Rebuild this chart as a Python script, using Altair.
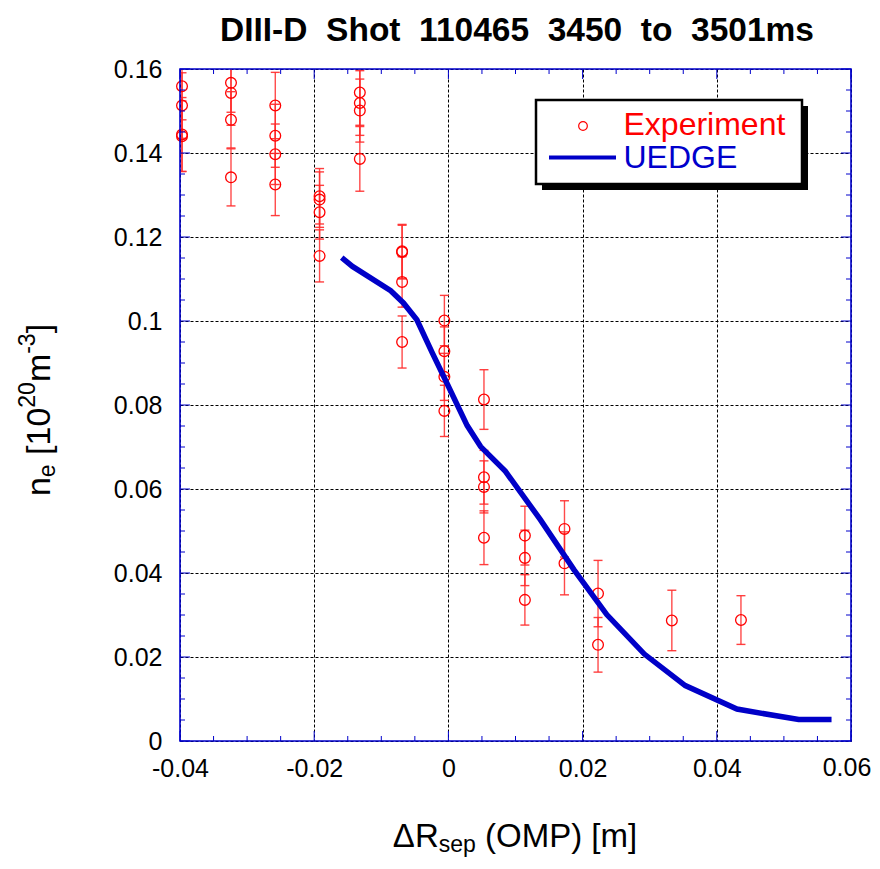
import altair as alt
import pandas as pd

# ---------------- data ----------------
exp_x = [-0.0397, -0.0397, -0.0397, -0.0397,
         -0.0324, -0.0324, -0.0324, -0.0324,
         -0.0258, -0.0258, -0.0258, -0.0258,
         -0.0192, -0.0192, -0.0192, -0.0192,
         -0.0132, -0.0132, -0.0132, -0.0132,
         -0.0069, -0.0069, -0.0069, -0.0069,
         -0.0006, -0.0006, -0.0006, -0.0006,
         0.0053, 0.0053, 0.0053, 0.0053,
         0.0114, 0.0114, 0.0114,
         0.0173, 0.0173,
         0.0223, 0.0223,
         0.0333,
         0.0436]
exp_y = [0.1559, 0.1513, 0.1444, 0.1440,
         0.1567, 0.1543, 0.1479, 0.1342,
         0.1513, 0.1441, 0.1397, 0.1325,
         0.1297, 0.1289, 0.1259, 0.1155,
         0.1544, 0.1519, 0.1501, 0.1386,
         0.1166, 0.1164, 0.1093, 0.0950,
         0.1001, 0.0928, 0.0867, 0.0786,
         0.0813, 0.0628, 0.0605, 0.0484,
         0.0489, 0.0436, 0.0336,
         0.0505, 0.0423,
         0.0351, 0.0229,
         0.0287,
         0.0288]
exp_err = [0.0080, 0.0078, 0.0088, 0.0084,
           0.0070, 0.0077, 0.0067, 0.0068,
           0.0079, 0.0075, 0.0072, 0.0074,
           0.0066, 0.0066, 0.0064, 0.0062,
           0.0078, 0.0077, 0.0075, 0.0077,
           0.0064, 0.0064, 0.0060, 0.0062,
           0.0060, 0.0058, 0.0056, 0.0061,
           0.0071, 0.0064, 0.0062, 0.0064,
           0.0070, 0.0066, 0.0060,
           0.0067, 0.0075,
           0.0079, 0.0065,
           0.0072,
           0.0058]

uedge_x = [-0.0159, -0.0143, -0.0086, -0.0067, -0.0047, -0.0024, -0.0007,
           0.0028, 0.0048, 0.0085, 0.0137, 0.0187, 0.0236, 0.0292,
           0.0353, 0.0430, 0.0522, 0.0571]
uedge_y = [0.1151, 0.1130, 0.1072, 0.1043, 0.1003, 0.0924, 0.0868,
           0.0751, 0.0701, 0.0642, 0.0527, 0.0408, 0.0301, 0.0207,
           0.0132, 0.0076, 0.0051, 0.0051]

x_major = [-0.04, -0.02, 0.0, 0.02, 0.04, 0.06]
y_major = [0.0, 0.02, 0.04, 0.06, 0.08, 0.1, 0.12, 0.14, 0.16]
x_minor = [-0.035, -0.03, -0.025, -0.015, -0.01, -0.005, 0.005, 0.01, 0.015,
           0.025, 0.03, 0.035, 0.045, 0.05, 0.055]
y_minor = [0.005, 0.01, 0.015, 0.025, 0.03, 0.035, 0.045, 0.05, 0.055,
           0.065, 0.07, 0.075, 0.085, 0.09, 0.095, 0.105, 0.11, 0.115,
           0.125, 0.13, 0.135, 0.145, 0.15, 0.155]
last_x_label = "0.06"

NB = "\u00a0"
title_text = f"DIII-D {NB}Shot {NB}110465 {NB}3450 {NB}to {NB}3501ms"
legend_labels = ["Experiment", "UEDGE"]

# ---------------- styling ----------------
W, H = 671, 672
BLUE = "#0000CC"
LINEBLUE = "#0000C8"
RED = "#FF0000"
ERR = "#FF2A2A"
FONT = "Liberation Sans"
TICKFS = 25
XPAD = 15

# Arial / Liberation Sans advance widths (em) for the rich-text titles
AW = {'n': .556, 'e': .556, ' ': .278, '[': .278, '1': .556, '0': .556, '2': .556,
      'm': .833, '-': .333, '3': .556, ']': .278, 'Δ': .668, 'R': .722, 's': .5,
      'p': .556, '(': .333, ')': .333, 'O': .778, 'M': .833, 'P': .667}


def tw(s, size):
    return sum(AW[c] for c in s) * size


xs = alt.Scale(domain=[-0.04, 0.06], nice=False, zero=False)
ys = alt.Scale(domain=[0, 0.16], nice=False, zero=False)

LABEL_EXPR = "replace(format(datum.value, '~g'), '\u2212', '-')"
X_LABEL_EXPR = "datum.value > 0.059 ? '' : " + LABEL_EXPR
x_axis = alt.Axis(values=x_major, labelExpr=X_LABEL_EXPR, grid=True, gridDash=[3, 2],
                  gridColor="black", gridWidth=1, gridOpacity=1, ticks=False, tickSize=0,
                  domain=False, labelFont=FONT, labelFontSize=TICKFS, labelColor="black",
                  labelPadding=XPAD, labelFlush=False, labelOverlap=False, title=None)
y_axis = alt.Axis(values=y_major, labelExpr=LABEL_EXPR, grid=True, gridDash=[3, 2],
                  gridColor="black", gridWidth=1, gridOpacity=1, ticks=False, tickSize=0,
                  domain=False, labelFont=FONT, labelFontSize=TICKFS, labelColor="black",
                  labelPadding=18, labelFlush=False, labelOverlap=False, title=None)

df = pd.DataFrame({"x": exp_x, "y": exp_y, "err": exp_err})
df["lo"] = df["y"] - df["err"]
df["hi"] = df["y"] + df["err"]
dfu = pd.DataFrame({"x": uedge_x, "y": uedge_y})
dummy = pd.DataFrame({"a": [0]})

layers = []

# error bars
layers.append(
    alt.Chart(df).mark_rule(color=ERR, opacity=0.85, strokeWidth=1.4, clip=True).encode(
        x=alt.X("x:Q", scale=xs, axis=x_axis),
        y=alt.Y("lo:Q", scale=ys, axis=y_axis),
        y2="hi:Q")
)
for fld in ["lo", "hi"]:
    layers.append(
        alt.Chart(df).mark_tick(color=ERR, opacity=0.9, orient="horizontal",
                                size=9, thickness=1.4, clip=True).encode(
            x=alt.X("x:Q", scale=xs, axis=x_axis),
            y=alt.Y(f"{fld}:Q", scale=ys, axis=y_axis))
    )

# experiment points
layers.append(
    alt.Chart(df).mark_point(shape="circle", filled=False, size=115, color=RED,
                             strokeWidth=1.3, opacity=1).encode(
        x=alt.X("x:Q", scale=xs, axis=x_axis),
        y=alt.Y("y:Q", scale=ys, axis=y_axis))
)

# UEDGE line
layers.append(
    alt.Chart(dfu).mark_line(color=LINEBLUE, strokeWidth=5.5).encode(
        x=alt.X("x:Q", scale=xs, axis=x_axis),
        y=alt.Y("y:Q", scale=ys, axis=y_axis))
)


# inward ticks on all four sides
def xticks(vals, length, top):
    d = pd.DataFrame({"v": vals})
    y0 = 0 if top else H
    y1 = length if top else H - length
    return alt.Chart(d).mark_rule(color=BLUE, strokeWidth=1).encode(
        x=alt.X("v:Q", scale=xs, axis=x_axis), y=alt.value(y0), y2=alt.value(y1))


def yticks(vals, length, right):
    d = pd.DataFrame({"v": vals})
    x0 = W if right else 0
    x1 = W - length if right else length
    return alt.Chart(d).mark_rule(color=BLUE, strokeWidth=1).encode(
        y=alt.Y("v:Q", scale=ys, axis=y_axis), x=alt.value(x0), x2=alt.value(x1))


for side in (False, True):
    layers.append(xticks(x_major, 10, side))
    layers.append(xticks(x_minor, 5, side))
    layers.append(yticks(y_major, 10, side))
    layers.append(yticks(y_minor, 5, side))

# frame
layers.append(
    alt.Chart(dummy).mark_rect(fillOpacity=0, stroke=BLUE, strokeWidth=1.6).encode(
        x=alt.value(0), x2=alt.value(W), y=alt.value(0), y2=alt.value(H))
)

# legend box with shadow
layers.append(
    alt.Chart(dummy).mark_rect(color="black").encode(
        x=alt.value(362), x2=alt.value(628), y=alt.value(37), y2=alt.value(121))
)
layers.append(
    alt.Chart(dummy).mark_rect(fill="white", stroke="black", strokeWidth=2.5).encode(
        x=alt.value(356), x2=alt.value(622), y=alt.value(31), y2=alt.value(115))
)
layers.append(
    alt.Chart(dummy).mark_point(shape="circle", filled=False, size=75, color=RED,
                                strokeWidth=1.2, opacity=1).encode(
        x=alt.value(403), y=alt.value(57))
)
layers.append(
    alt.Chart(dummy).mark_rule(color=LINEBLUE, strokeWidth=4).encode(
        x=alt.value(369), x2=alt.value(436), y=alt.value(88.5))
)


def txt(text, x, y, size, color="black", angle=0, align="left", bold=False,
        baseline="alphabetic"):
    kw = dict(text=text, font=FONT, fontSize=size, color=color, align=align,
              baseline=baseline)
    if angle:
        kw["angle"] = angle
    if bold:
        kw["fontWeight"] = "bold"
    return alt.Chart(dummy).mark_text(**kw).encode(x=alt.value(x), y=alt.value(y))


layers.append(txt(legend_labels[0], 443.5, 66, 32, RED))
layers.append(txt(legend_labels[1], 443.5, 99.3, 32, BLUE))

# last x tick label, nudged to stay inside the page
layers.append(txt(last_x_label, 667, H + XPAD, TICKFS, align="center", baseline="top"))

# chart title
layers.append(txt(title_text, 337, -28, 33.5, "black", align="center", bold=True))

# x-axis title: ΔR_sep (OMP) [m]
FX, fx = 33, 23
parts_x = [("ΔR", FX, 0), ("sep", fx, 5), (" ", FX, None), ("(OMP) [m]", FX, 0)]
total = sum(tw(s, sz) for s, sz, _ in parts_x)
cx = 335 - total / 2
base_x = 778
for s, sz, sh in parts_x:
    if sh is not None:
        layers.append(txt(s, cx, base_x + sh, sz))
    cx += tw(s, sz)

# y-axis title: n_e [10^20 m^-3]  (rotated, reading bottom to top)
FY, fy = 34, 23
parts_y = [("n", FY, 0), ("e", fy, 5), (" ", FY, None), ("[10", FY, 0),
           ("20", fy, -15), ("m", FY, 0), ("-3", fy, -15), ("]", FY, 0)]
total = sum(tw(s, sz) for s, sz, _ in parts_y)
cy = 341 + total / 2
base_y = -130
for s, sz, sh in parts_y:
    if sh is not None:
        layers.append(txt(s, base_y + sh, cy, sz, angle=270))
    cy -= tw(s, sz)

chart = alt.layer(*layers).properties(
    width=W, height=H,
    autosize=alt.AutoSizeParams(type="none"),
    padding={"left": 172, "top": 61, "right": 21, "bottom": 117},
).configure_view(stroke=None)

chart.save("out.html", embed_options={"renderer": "svg", "actions": False})
